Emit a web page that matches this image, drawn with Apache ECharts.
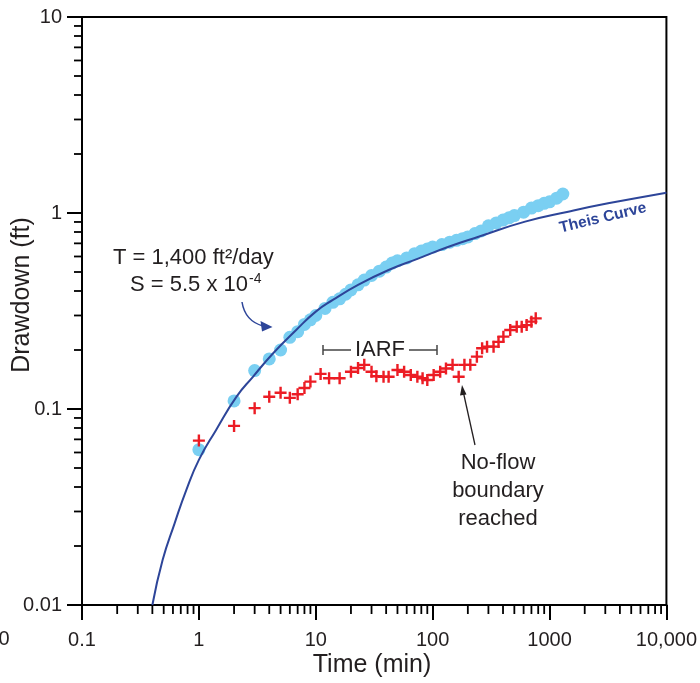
<!DOCTYPE html>
<html><head><meta charset="utf-8">
<script src="https://cdn.jsdelivr.net/npm/echarts@6/dist/echarts.min.js"></script>
<style>html,body{margin:0;padding:0;background:#fff}#c{width:700px;height:683px}</style>
</head><body><div id="c"></div>
<script>
// Theis type curve
const theisTime = [0.40, 0.49, 0.62, 0.78, 1.0, 1.4, 2.1, 2.9, 4.3, 6.8, 10, 14, 23, 42, 76, 137, 247, 618, 1445, 3170, 10000];
const theisDrawdown = [0.0100, 0.0170, 0.0261, 0.0386, 0.055, 0.078, 0.1156, 0.146, 0.192, 0.253, 0.314, 0.36, 0.43, 0.512, 0.587, 0.673, 0.757, 0.904, 1.016, 1.12, 1.27];

// Observed drawdown (blue circles)
const obsTime = [1,2,3,4,5,6,7,8,9,10,12,14,16,18,20,23,26,30,35,40,45,50,60,70,80,90,100,120,140,160,180,200,230,260,300,350,400,450,500,600,700,800,900,1000,1150,1300];
const obsDrawdown = [0.062,0.11,0.157,0.18,0.20,0.232,0.248,0.27,0.285,0.30,0.326,0.35,0.365,0.385,0.405,0.43,0.455,0.48,0.505,0.53,0.555,0.57,0.59,0.62,0.64,0.655,0.67,0.69,0.71,0.725,0.74,0.755,0.785,0.81,0.86,0.89,0.92,0.945,0.97,1.01,1.06,1.09,1.12,1.14,1.19,1.25];

// Drawdown with no-flow boundary (red crosses)
const bndTime = [1,2,3,4,5,6,7,8,9,11,13,16,20,23,26,30,33,38,42,50,57,65,74,82,90,102,116,130,148,167,187,210,239,265,292,332,366,403,461,524,578,637,700,762];
const bndDrawdown = [0.069,0.082,0.101,0.1155,0.121,0.114,0.119,0.128,0.138,0.151,0.1435,0.1435,0.155,0.162,0.168,0.155,0.147,0.146,0.146,0.158,0.155,0.149,0.146,0.1435,0.1406,0.149,0.155,0.161,0.168,0.146,0.168,0.168,0.185,0.204,0.208,0.208,0.22,0.234,0.253,0.263,0.263,0.268,0.279,0.29];

const xTickValues = [0.1, 1, 10, 100, 1000, 10000];
const xTickLabels = ['0.1', '1', '10', '100', '1000', '10,000'];
const yTickValues = [0.01, 0.1, 1, 10];
const yTickLabels = ['0.01', '0.1', '1', '10'];

const FONT = "'Liberation Sans', Arial, Helvetica, sans-serif";
const TXT = '#231f20';

function labelFor(v, vals, labs) {
  for (let i = 0; i < vals.length; i++) {
    if (Math.abs(Math.log10(v) - Math.log10(vals[i])) < 1e-6) return labs[i];
  }
  return '';
}
function zip(a, b) { return a.map((t, i) => [t, b[i]]); }

const chart = echarts.init(document.getElementById('c'), null, {renderer: 'canvas'});
const axisCommon = {
  type: 'log', logBase: 10,
  axisLine: {show: true, lineStyle: {color: '#000', width: 2}},
  axisTick: {show: true, length: 15, lineStyle: {color: '#000', width: 2}},
  splitLine: {show: false},
  minorTick: {show: false}
};
chart.setOption({
  animation: false,
  backgroundColor: '#fff',
  grid: {left: 82, right: 32, top: 17, bottom: 78, show: true, borderColor: '#000', borderWidth: 2, backgroundColor: 'transparent'},
  xAxis: Object.assign({}, axisCommon, {
    min: 0.1, max: 10000,
    axisLabel: {margin: 25, fontSize: 20, color: TXT, fontFamily: FONT, hideOverlap: false, showMinLabel: true, showMaxLabel: true,
      formatter: v => labelFor(v, xTickValues, xTickLabels)}
  }),
  yAxis: Object.assign({}, axisCommon, {
    min: 0.01, max: 10,
    axisLabel: {margin: 20, fontSize: 20, color: TXT, fontFamily: FONT, hideOverlap: false, showMinLabel: true, showMaxLabel: true,
      formatter: v => labelFor(v, yTickValues, yTickLabels)}
  }),
  series: [
    {type: 'scatter', name: 'Observed', data: zip(obsTime, obsDrawdown), symbol: 'circle', symbolSize: 13,
      itemStyle: {color: '#7acff2', opacity: 1}, z: 2},
    {type: 'line', name: 'Theis Curve', data: zip(theisTime, theisDrawdown), showSymbol: false, smooth: 0.5,
      lineStyle: {color: '#2d4599', width: 2}, z: 3},
    {type: 'scatter', name: 'Boundary', data: zip(bndTime, bndDrawdown),
      symbol: 'path://M4,0h2v4h4v2h-4v4h-2v-4h-4v-2h4z', symbolSize: 12,
      itemStyle: {color: '#ec1c24', opacity: 1}, z: 4}
  ]
});

// minor ticks at 2..9 of each decade, placed through the axis scales
const g = [];
const x0 = chart.convertToPixel({xAxisIndex: 0}, 0.1);
const yb = chart.convertToPixel({yAxisIndex: 0}, 0.01);
for (let e = -1; e <= 3; e++) {
  for (let m = 2; m <= 9; m++) {
    const px = chart.convertToPixel({xAxisIndex: 0}, m * Math.pow(10, e));
    g.push({type: 'line', shape: {x1: px, y1: yb, x2: px, y2: yb + 9}, style: {stroke: '#000', lineWidth: 1.8}, silent: true});
  }
}
for (let e = -2; e <= 0; e++) {
  for (let m = 2; m <= 9; m++) {
    const py = chart.convertToPixel({yAxisIndex: 0}, m * Math.pow(10, e));
    g.push({type: 'line', shape: {x1: x0 - 8, y1: py, x2: x0, y2: py}, style: {stroke: '#000', lineWidth: 1.8}, silent: true});
  }
}

// axis titles
g.push({type: 'text', x: 372, y: 665, style: {text: 'Time (min)', font: '25px ' + FONT, fill: TXT, align: 'center', verticalAlign: 'middle'}});
g.push({type: 'text', x: 22, y: 295, rotation: Math.PI / 2, style: {text: 'Drawdown (ft)', font: '25px ' + FONT, fill: TXT, align: 'center', verticalAlign: 'middle'}});
// stray clipped label at far left
g.push({type: 'text', x: 4, y: 639, style: {text: '0', font: '20px ' + FONT, fill: TXT, align: 'center', verticalAlign: 'middle'}});

// T / S annotation
g.push({type: 'text', x: 113, y: 258, style: {text: 'T = 1,400 ft\u00B2/day', font: '22px ' + FONT, fill: TXT, align: 'left', verticalAlign: 'middle'}});
g.push({type: 'text', x: 130, y: 285, style: {text: 'S = 5.5 x 10', font: '22px ' + FONT, fill: TXT, align: 'left', verticalAlign: 'middle'}});
g.push({type: 'text', x: 249, y: 279, style: {text: '-4', font: '14px ' + FONT, fill: TXT, align: 'left', verticalAlign: 'middle'}});
// blue curved arrow
g.push({type: 'bezierCurve', shape: {x1: 242, y1: 302, x2: 263, y2: 326, cpx1: 245, cpy1: 321}, style: {stroke: '#2d4599', lineWidth: 1.5, fill: null}});
g.push({type: 'polygon', shape: {points: [[260.5, 321], [272.5, 327], [262, 331.5]]}, style: {fill: '#2d4599'}});

// Theis Curve label
g.push({type: 'text', x: 603, y: 218, rotation: 13.5 * Math.PI / 180, style: {text: 'Theis Curve', font: 'bold 15.5px ' + FONT, fill: '#2d4599', align: 'center', verticalAlign: 'middle'}});

// IARF bracket
g.push({type: 'text', x: 380, y: 350, style: {text: 'IARF', font: '22px ' + FONT, fill: TXT, align: 'center', verticalAlign: 'middle'}});
const brk = {stroke: '#444', lineWidth: 1.5};
g.push({type: 'line', shape: {x1: 323, y1: 350, x2: 351, y2: 350}, style: brk});
g.push({type: 'line', shape: {x1: 323, y1: 345, x2: 323, y2: 355}, style: brk});
g.push({type: 'line', shape: {x1: 409, y1: 350, x2: 437, y2: 350}, style: brk});
g.push({type: 'line', shape: {x1: 437, y1: 345, x2: 437, y2: 355}, style: brk});

// No-flow boundary annotation
g.push({type: 'text', x: 498, y: 491, style: {text: 'No-flow\nboundary\nreached', font: '22px ' + FONT, lineHeight: 28, fill: TXT, align: 'center', verticalAlign: 'middle'}});
g.push({type: 'line', shape: {x1: 475, y1: 445, x2: 463.5, y2: 393}, style: {stroke: TXT, lineWidth: 1.3}});
g.push({type: 'polygon', shape: {points: [[462, 385], [460, 395.5], [466.5, 394.5]]}, style: {fill: TXT}});

chart.setOption({graphic: g});
</script>
</body></html>
